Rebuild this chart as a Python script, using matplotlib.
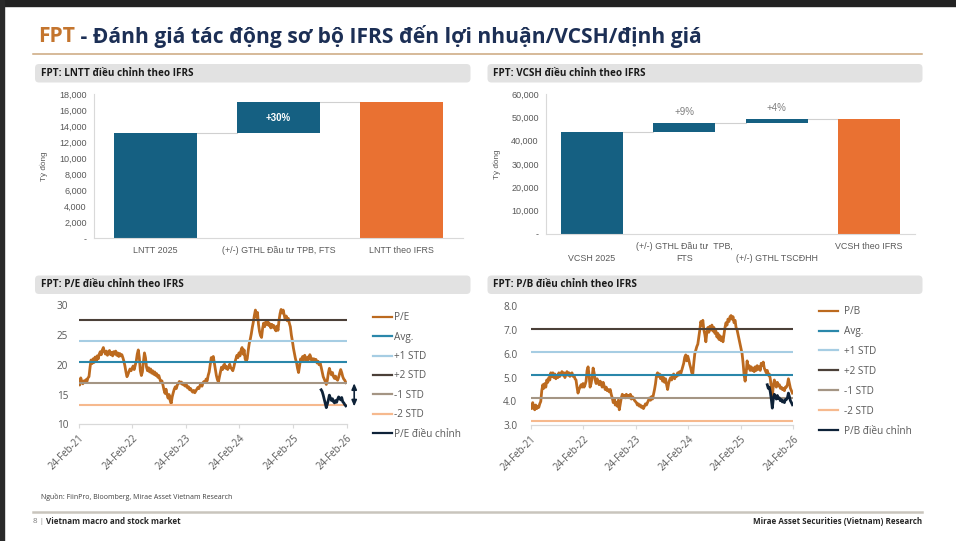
import matplotlib
matplotlib.use('Agg')
import matplotlib.pyplot as plt
import matplotlib.ticker as mticker
from matplotlib import font_manager as fm
from matplotlib.patches import FancyBboxPatch, Rectangle
from matplotlib.lines import Line2D
import numpy as np
import pandas as pd

# ---------------------------------------------------------------- data
title_ticker = "FPT"
title_rest = " - Đánh giá tác động sơ bộ IFRS đến lợi nhuận/VCSH/định giá"

lntt_title = "FPT: LNTT điều chỉnh theo IFRS"
lntt_categories = ["LNTT 2025", "(+/-) GTHL Đầu tư TPB, FTS", "LNTT theo IFRS"]
lntt_values = [13100, 3900, 17000]          # start, change, end (tỷ đồng)
lntt_change_labels = ["+30%"]

vcsh_title = "FPT: VCSH điều chỉnh theo IFRS"
vcsh_categories = ["\nVCSH 2025", "(+/-) GTHL Đầu tư  TPB,\nFTS",
                   "\n(+/-) GTHL TSCĐHH", "VCSH theo IFRS"]
vcsh_values = [43800, 3900, 1700, 49400]    # start, change, change, end
vcsh_change_labels = ["+9%", "+4%"]

pe_title = "FPT: P/E điều chỉnh theo IFRS"
pb_title = "FPT: P/B điều chỉnh theo IFRS"
series_start = "2021-02-24"
adj_start = "2025-09-03"       # first week of adjusted P/E
adj_pb_start = "2025-08-27"    # first week of adjusted P/B

pe_y1 = [17.0, 16.6, 17.8, 17.2, 16.8, 17.3, 17.0, 17.5, 17.2, 17.8,
         18.0, 19.5, 20.8, 20.2, 21.0, 20.4, 21.3, 20.6, 21.5, 21.0, 21.8, 22.2, 21.7, 22.5, 22.9, 22.2,
         21.8, 22.3, 21.6, 22.0, 22.4, 21.7, 22.1, 21.5, 22.2, 21.8, 22.3, 21.6, 22.0, 21.4, 21.9, 21.5, 21.7,
         21.2, 20.6, 19.8, 18.8, 18.0, 18.4, 18.9, 19.3, 19.0]
pe_y2 = [19.4, 19.8, 19.2, 19.9, 20.6, 21.8, 22.5, 21.2, 19.0, 18.2,
         18.8, 20.5, 22.0, 21.2, 19.6, 19.0, 19.5, 18.8, 19.3, 18.6,
         19.0, 18.4, 18.8, 18.2, 18.5, 17.9, 18.2, 17.6, 17.1, 17.3,
         16.6, 15.8, 15.2, 15.9, 15.0, 14.4, 15.0, 14.0, 13.5, 14.6,
         15.3, 15.9, 16.3, 16.0, 16.6, 16.9, 17.2, 16.9, 17.1, 16.7,
         16.9, 16.5]
pe_y3 = [16.4, 16.6, 16.1, 16.3, 15.8, 16.0, 15.6, 15.4, 15.7, 15.3,
         15.6, 15.9, 16.2, 16.0, 16.5, 16.8, 16.4, 17.0, 17.2, 17.0,
         17.6, 17.3, 18.2, 18.8, 20.0, 21.2, 20.9, 21.4, 20.3, 19.1,
         18.2, 17.5, 17.1, 18.0, 18.8, 19.6, 19.2, 19.9, 20.1, 19.4,
         19.7, 19.2, 19.6, 20.1, 19.5, 19.3, 19.0, 19.6, 20.4, 21.0,
         21.6, 21.2]
pe_y4 = [22.0, 21.5, 22.4, 22.9, 21.8, 22.5, 21.0, 20.6,
         21.0, 22.4, 23.6, 24.3, 25.2, 26.3, 27.2, 28.3, 29.2, 28.0,
         28.8, 26.8, 25.6, 24.9, 24.6, 26.1, 27.0, 26.4, 27.2, 26.8,
         27.4, 26.6, 26.9, 26.2, 26.8, 26.3, 26.6, 26.0, 25.7, 26.5,
         25.8, 27.5, 28.6, 29.3, 28.7, 29.2, 28.4, 27.6, 28.2, 27.4,
         27.8, 27.0, 26.4, 25.0]
pe_y5 = [24.0, 22.8, 21.9, 21.0, 20.4, 19.4, 18.7, 19.8, 21.0, 20.6,
         21.4, 20.8, 21.6, 21.0, 20.7, 21.3, 20.9, 21.7, 21.2, 20.6,
         21.0, 21.0, 20.6, 20.9, 20.3, 20.6, 20.0, 20.3, 19.6, 18.8,
         18.0, 17.6, 17.2, 16.7, 17.4, 18.6, 19.4, 18.8, 18.3, 18.7,
         18.0, 17.7, 18.1, 17.6, 17.4, 17.9, 18.6, 19.2, 18.7, 18.0,
         17.6, 17.4, 17.0]
pe_adjusted = [15.8, 15.5, 14.9, 14.2, 13.5, 12.8, 13.4, 14.1, 14.9, 14.4,
               14.0, 14.3, 13.8, 13.6, 14.0, 13.7, 14.2, 14.6, 14.4, 14.1,
               14.5, 13.8, 13.6, 13.3, 13.1]
pe_band_labels = ["Avg.", "+1 STD", "+2 STD", "-1 STD", "-2 STD"]
pe_band_values = [20.4, 24.0, 27.5, 16.9, 13.3]

pb_y1 = [3.8, 3.7, 3.95, 3.75, 3.65, 3.85, 3.7, 3.8, 3.75, 3.9,
         4.0, 4.45, 4.7, 4.55, 4.75, 4.6, 4.9, 4.8, 5.0, 4.9,
         5.2, 5.05, 5.2, 5.0, 5.15, 4.95, 5.1, 5.0, 5.2, 5.05,
         5.15, 5.25, 5.1, 5.2, 5.0, 5.15, 5.25, 5.1, 5.2, 5.05,
         5.15, 5.2, 5.05, 5.1, 4.95, 4.9, 4.6, 4.35, 4.5, 4.6,
         4.7, 4.6]
pb_y2 = [4.75, 4.6, 4.7, 4.85, 5.3, 5.45, 5.1, 4.6, 4.75, 5.0,
         5.4, 5.2, 4.9, 4.75, 4.95, 4.8, 4.7, 4.85, 4.75, 4.6,
         4.8, 4.65, 4.5, 4.6, 4.45, 4.5, 4.4, 4.5, 4.3, 4.15,
         3.95, 4.1, 3.85, 3.95, 3.8, 4.05, 3.65, 3.9, 4.15, 4.3,
         4.2, 4.25, 4.15, 4.3, 4.2, 4.25, 4.15, 4.3, 4.1, 4.2,
         4.15, 4.05]
pb_y3 = [4.0, 3.95, 3.85, 3.9, 3.8, 3.85, 3.75, 3.8, 3.7, 3.8,
         3.9, 3.85, 3.95, 4.05, 4.15, 4.05, 4.2, 4.1, 4.3, 4.5,
         4.75, 5.1, 5.2, 5.05, 5.15, 4.95, 5.1, 4.85, 5.0, 4.8,
         4.95, 4.7, 4.5, 4.75, 4.9, 5.0, 4.9, 5.05, 5.15, 4.95,
         5.1, 5.05, 5.2, 5.1, 5.25, 5.15, 5.3, 5.45, 5.6, 5.85,
         5.95, 5.7]
pb_y4 = [5.9, 5.75, 5.55, 5.4, 5.2, 5.15, 5.6, 6.0, 6.15, 6.3,
         6.4, 6.7, 7.0, 7.35, 7.2, 7.4, 7.0, 6.8, 6.5, 6.9,
         7.1, 6.9, 7.15, 7.0, 7.2, 6.95, 7.1, 6.85, 6.95, 6.7,
         6.85, 6.6, 6.75, 6.55, 6.7, 6.5, 6.8, 7.1, 7.3, 7.2,
         7.45, 7.35, 7.55, 7.6, 7.45, 7.55, 7.3, 7.4, 7.1, 7.0,
         6.8, 6.6]
pb_y5 = [6.4, 6.2, 6.0, 5.6, 5.1, 4.85, 5.2, 5.7, 5.4, 5.5,
         5.3, 5.45, 5.3, 5.4, 5.25, 5.45, 5.3, 5.5, 5.35, 5.45,
         5.3, 5.6, 5.5, 5.65, 5.4, 5.3, 5.2, 5.3, 5.1, 5.15,
         4.95, 4.6, 4.2, 4.65, 4.9, 4.75, 4.6, 4.8, 4.65, 4.7,
         4.55, 4.6, 4.5, 4.55, 4.45, 4.6, 4.6, 4.7, 4.95, 4.75,
         4.55, 4.45, 4.35]
pb_adjusted = [4.7, 4.55, 4.6, 4.4, 4.1, 3.72, 4.1, 4.3, 4.2, 4.1,
               4.25, 4.12, 4.15, 4.03, 4.08, 3.98, 4.03, 3.95, 4.08, 4.08,
               4.15, 4.35, 4.2, 4.03, 3.95, 3.86]
pb_band_labels = ["Avg.", "+1 STD", "+2 STD", "-1 STD", "-2 STD"]
pb_band_values = [5.1, 6.07, 7.04, 4.13, 3.16]

x_tick_dates = ["2021-02-24", "2022-02-24", "2023-02-24",
                "2024-02-24", "2025-02-24", "2026-02-24"]

source_text = "Nguồn: FiinPro, Bloomberg, Mirae Asset Vietnam Research"
footer_page = "8 | "
footer_left = "Vietnam macro and stock market"
footer_right = "Mirae Asset Securities (Vietnam) Research"

# ---------------------------------------------------------------- style
W, H = 956, 541


def pick(*names):
    avail = {f.name for f in fm.fontManager.ttflist}
    for n in names:
        if n in avail:
            return n
    return "DejaVu Sans"


OS = pick("Open Sans", "Noto Sans")
AR = pick("Liberation Sans", "Arial")

NAVY_BAR = "#156082"
ORANGE_BAR = "#E97132"
C_MAIN = "#BC6A1F"
C_ADJ = "#0E2238"
band_colors = {"Avg.": "#2A87AA", "+1 STD": "#A6CDE3", "+2 STD": "#4B4038",
               "-1 STD": "#A49584", "-2 STD": "#F6B98E"}
GRAY_TXT = "#595959"
AXIS_C = "#D9D9D9"

fig = plt.figure(figsize=(W / 100, H / 100), dpi=100)
fig.patch.set_facecolor("white")
T = fig.dpi_scale_trans


def fx(x):
    return x / 100.0


def fy(y):
    return (H - y) / 100.0


def ax_at(x0, y0, x1, y1):
    return fig.add_axes([x0 / W, 1 - y1 / H, (x1 - x0) / W, (y1 - y0) / H])


# page borders
fig.patches.append(Rectangle((0, fy(6)), fx(W), fx(6), transform=T,
                             color="#222222", zorder=0))
fig.patches.append(Rectangle((0, 0), fx(3.5), fx(H), transform=T,
                             color="#2A2A2A", zorder=0))

# title
t1 = fig.text(fx(38), fy(36), title_ticker, transform=T, family=OS,
              fontweight="bold", fontsize=15.1, color="#C4752E", va="center")
fig.canvas.draw()
r = fig.canvas.get_renderer()
bb = t1.get_window_extent(r)
fig.text(bb.x1 / 100.0, fy(36), title_rest, transform=T, family=OS,
         fontweight="bold", fontsize=15.1, color="#1C2F55", va="center")
fig.add_artist(Line2D([fx(33), fx(922)], [fy(54), fy(54)], transform=T,
                      color="#CBA77D", lw=1.1))


def header(x0, y0, x1, y1, text):
    fig.patches.append(FancyBboxPatch((fx(x0), fy(y1)), fx(x1 - x0), fx(y1 - y0),
                                      boxstyle="round,pad=0,rounding_size=0.04",
                                      transform=T, fc="#E2E2E2", ec="none"))
    fig.text(fx(x0 + 6), fy((y0 + y1) / 2), text, transform=T, family=OS,
             fontweight="bold", fontsize=7.1, color="#1A1A1A", va="center")


header(35, 64, 470.5, 82.5, lntt_title)
header(487.5, 64, 922.5, 82.5, vcsh_title)
header(35, 275.5, 470.5, 294, pe_title)
header(487.5, 275.5, 922.5, 294, pb_title)

BW = 0.67


def style_bar_axis(ax, ymax, step):
    ax.set_ylim(0, ymax)
    ax.set_yticks(np.arange(0, ymax + 1, step))
    ax.yaxis.set_major_formatter(mticker.FuncFormatter(
        lambda v, p: "-" if v == 0 else f"{v:,.0f}"))
    for s in ("top", "right"):
        ax.spines[s].set_visible(False)
    for s in ("left", "bottom"):
        ax.spines[s].set_color(AXIS_C)
        ax.spines[s].set_linewidth(0.8)
    ax.tick_params(axis="y", length=0, pad=5.2, labelsize=6.5, labelcolor=GRAY_TXT)
    ax.tick_params(axis="x", length=0, pad=5.8, labelsize=6.4, labelcolor=GRAY_TXT)
    for lab in ax.get_yticklabels() + ax.get_xticklabels():
        lab.set_family(AR)
    ax.set_ylabel("Tỷ đồng", family=AR, fontsize=5.9, color=GRAY_TXT)


def waterfall(ax, cats, vals, pct_labels, inside):
    n = len(cats)
    xs = np.arange(n)
    level = vals[0]
    ax.bar(xs[0], vals[0], width=BW, color=NAVY_BAR, zorder=2)
    tops = [vals[0]]
    for i, d in enumerate(vals[1:-1], start=1):
        ax.bar(xs[i], d, bottom=level, width=BW, color=NAVY_BAR, zorder=2)
        if inside:
            ax.text(xs[i], level + d / 2, pct_labels[i - 1], ha="center", va="center",
                    color="white", fontsize=7, fontweight="bold", family=AR, zorder=3)
        else:
            ax.annotate(pct_labels[i - 1], (xs[i], level + d), xytext=(0, 7.5),
                        textcoords="offset points", ha="center", va="center",
                        color="#7F7F7F", fontsize=7, family=AR)
        level += d
        tops.append(level)
    ax.bar(xs[-1], vals[-1], width=BW, color=ORANGE_BAR, zorder=2)
    for i in range(n - 1):
        ax.plot([xs[i] + BW / 2, xs[i + 1] - BW / 2], [tops[i], tops[i]],
                color="#D0D0D0", lw=0.8, zorder=1)
    ax.set_xlim(-0.5, n - 0.5)
    ax.set_xticks(xs)
    ax.set_xticklabels(cats, linespacing=1.45, va="top")


ax1 = ax_at(94, 94, 463, 238.3)
waterfall(ax1, lntt_categories, lntt_values, lntt_change_labels, True)
style_bar_axis(ax1, 18000, 2000)
ax1.yaxis.set_label_coords(-0.126, 0.5)

ax2 = ax_at(546, 94, 915, 234)
waterfall(ax2, vcsh_categories, vcsh_values, vcsh_change_labels, False)
style_bar_axis(ax2, 60000, 10000)
ax2.yaxis.set_label_coords(-0.123, 0.5)


def line_panel(ax, years, adj, adj_start_date, band_labels, band_values, ylim,
               yticks, yfmt, main_label, adj_label, ypad, leg_xy, leg_pad, leg_hl,
               leg_sp):
    vals = sum(years, [])
    dates = pd.date_range(series_start, periods=len(vals), freq="7D")
    adates = pd.date_range(adj_start_date, periods=len(adj), freq="7D")
    x0 = pd.Timestamp(x_tick_dates[0])
    x1 = pd.Timestamp(x_tick_dates[-1])
    ax.plot(dates, vals, color=C_MAIN, lw=2.0, zorder=2, solid_joinstyle="round")
    for lab, v in zip(band_labels, band_values):
        ax.hlines(v, x0, x1, color=band_colors[lab], lw=1.5, zorder=3)
    ax.plot(adates, adj, color=C_ADJ, lw=2.0, zorder=4, solid_joinstyle="round")
    ax.set_xlim(x0, x1)
    ax.set_ylim(*ylim)
    ax.set_yticks(yticks)
    ax.yaxis.set_major_formatter(mticker.FormatStrFormatter(yfmt))
    ticks = pd.to_datetime(x_tick_dates)
    ax.set_xticks(ticks)
    ax.set_xticklabels([d.strftime("%d-%b-%y") for d in ticks])
    for s in ("top", "right", "left"):
        ax.spines[s].set_visible(False)
    ax.spines["bottom"].set_color(AXIS_C)
    ax.spines["bottom"].set_linewidth(0.9)
    ax.tick_params(axis="y", length=0, pad=ypad, labelsize=7.2, labelcolor=GRAY_TXT)
    ax.tick_params(axis="x", length=3, width=0.8, color=AXIS_C, pad=3,
                   labelsize=6.9, labelcolor=GRAY_TXT)
    for lab in ax.get_yticklabels() + ax.get_xticklabels():
        lab.set_family(OS)
    for lab in ax.get_xticklabels():
        lab.set_rotation(45)
        lab.set_ha("right")
        lab.set_va("top")
        lab.set_rotation_mode("anchor")
    handles = [Line2D([], [], color=C_MAIN, lw=1.6)]
    labels = [main_label]
    for lab in band_labels:
        handles.append(Line2D([], [], color=band_colors[lab], lw=1.6))
        labels.append(lab)
    handles.append(Line2D([], [], color=C_ADJ, lw=1.6))
    labels.append(adj_label)
    fig.legend(handles, labels, loc="upper left",
               bbox_to_anchor=(fx(leg_xy[0]), fy(leg_xy[1])), bbox_transform=T,
               frameon=False, borderpad=0, borderaxespad=0, handlelength=leg_hl,
               handletextpad=leg_pad, labelspacing=leg_sp,
               prop=dict(family=OS, size=7.2), labelcolor=GRAY_TXT)


ax3 = ax_at(78.7, 305.3, 346.7, 424.3)
line_panel(ax3, [pe_y1, pe_y2, pe_y3, pe_y4, pe_y5], pe_adjusted, adj_start,
           pe_band_labels, pe_band_values, (10, 30), [10, 15, 20, 25, 30], "%d",
           "P/E", "P/E điều chỉnh", 7.5, (373, 312.2), 0.18, 1.9, 0.84)
ax3.annotate("", xy=(1.028, 13.0), xytext=(1.028, 16.9),
             xycoords=("axes fraction", "data"),
             arrowprops=dict(arrowstyle="<|-|>,head_length=0.35,head_width=0.15",
                             color=C_ADJ, lw=1.2, shrinkA=0, shrinkB=0),
             annotation_clip=False)

ax4 = ax_at(530.7, 306, 793.3, 425.3)
line_panel(ax4, [pb_y1, pb_y2, pb_y3, pb_y4, pb_y5], pb_adjusted, adj_pb_start,
           pb_band_labels, pb_band_values, (3, 8), [3, 4, 5, 6, 7, 8], "%.1f",
           "P/B", "P/B điều chỉnh", 9.6, (819, 306.2), 0.62, 1.85, 0.89)

# footer
fig.text(fx(40.7), fy(496.7), source_text, transform=T, family=OS, fontsize=5.0,
         color="#404040", va="center")
fig.add_artist(Line2D([fx(32.7), fx(922)], [fy(512.3), fy(512.3)], transform=T,
                      color="#C9C5BD", lw=1.8))
tp = fig.text(fx(32.7), fy(521.7), footer_page, transform=T, family=OS,
              fontsize=5.8, color="#7F7F7F", va="center")
fig.canvas.draw()
bb = tp.get_window_extent(fig.canvas.get_renderer())
fig.text(bb.x1 / 100.0, fy(521.7), footer_left, transform=T, family=OS,
         fontsize=5.8, fontweight="bold", color="#262626", va="center")
fig.text(fx(922), fy(521.7), footer_right, transform=T, family=OS,
         fontsize=5.8, fontweight="bold", color="#262626", va="center", ha="right")

fig.savefig("out.png", dpi=100)
